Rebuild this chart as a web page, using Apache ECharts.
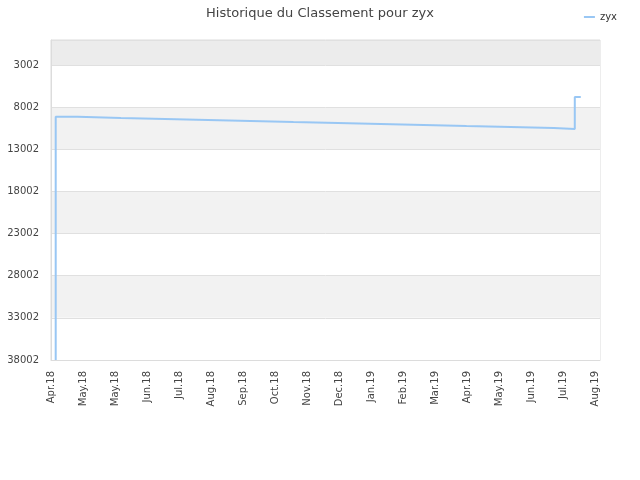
<!DOCTYPE html>
<html lang="fr" style="height: 100%">
<head>
  <meta charset="utf-8">
</head>
<body style="height: 100%; margin: 0">
  <div id="container" style="height: 100%"></div>

  <script type="text/javascript" src="https://fastly.jsdelivr.net/npm/echarts@6/dist/echarts.min.js"></script>

  <script type="text/javascript">
    // jours depuis le 1er avril 2018
    var dayOffsets = [4.4, 4.4, 25, 65.5, 106.7, 147, 187, 227, 268.6, 308.8, 349, 389, 430.5, 470.7, 490.4, 496];
    // classement
    var ranks = [38002, 9136, 9290, 9409, 9528, 9646, 9765, 9884, 10002, 10121, 10240, 10358, 10477, 10596, 6799, 6799];

    var xTickLabels = ['Apr.18', 'May.18', 'May.18', 'Jun.18', 'Jul.18', 'Aug.18', 'Sep.18', 'Oct.18',
      'Nov.18', 'Dec.18', 'Jan.19', 'Feb.19', 'Mar.19', 'Apr.19', 'May.19', 'Jun.19', 'Jul.19', 'Aug.19'];
    var yTickValues = [3002, 8002, 13002, 18002, 23002, 28002, 33002, 38002];

    var yMin = 36;

    var dom = document.getElementById('container');
    var myChart = echarts.init(dom, null, { renderer: 'canvas' });

    var seriesData = dayOffsets.map(function (d, i) {
      return [d, ranks[i]];
    });

    var option = {
      animation: false,
      textStyle: { fontFamily: 'DejaVu Sans' },
      title: {
        text: 'Historique du Classement pour zyx',
        left: 'center',
        top: 2,
        textStyle: { fontSize: 13, fontWeight: 'normal', color: '#444' }
      },
      legend: {
        right: 18,
        top: 7,
        itemWidth: 11,
        itemHeight: 2,
        itemGap: 6,
        data: [{ name: 'zyx', icon: 'rect' }],
        textStyle: { fontSize: 10, color: '#333' }
      },
      grid: {
        left: 51,
        right: 40,
        top: 40,
        bottom: 120,
        show: true,
        borderColor: '#dcdcdc',
        borderWidth: 1
      },
      xAxis: {
        type: 'value',
        min: 0,
        max: 514,
        interval: 30,
        axisLine: { show: true, lineStyle: { color: '#dcdcdc' } },
        axisTick: { show: false },
        splitLine: { show: false },
        axisLabel: {
          rotate: 90,
          margin: 11,
          fontSize: 10,
          color: '#444',
          showMaxLabel: false,
          formatter: function (v) {
            if (v % 30 !== 0) return '';
            return xTickLabels[v / 30] || '';
          }
        }
      },
      yAxis: {
        type: 'value',
        inverse: true,
        min: yMin,
        max: 38002,
        axisLine: { show: true, lineStyle: { color: '#dcdcdc' } },
        axisTick: { show: false, customValues: [yMin].concat(yTickValues) },
        axisLabel: {
          customValues: yTickValues,
          fontSize: 10,
          color: '#444',
          margin: 12,
          formatter: function (v) { return String(v); }
        },
        splitLine: { show: true, lineStyle: { color: '#e0e0e0' } },
        splitArea: {
          show: true,
          areaStyle: {
            color: ['#ececec', '#ffffff', '#f2f2f2', '#ffffff', '#f2f2f2', '#ffffff', '#f2f2f2', '#ffffff']
          }
        }
      },
      series: [
        {
          name: 'zyx',
          type: 'line',
          step: 'end',
          showSymbol: false,
          data: seriesData,
          itemStyle: { color: '#99c7f4' },
          lineStyle: { color: '#99c7f4', width: 2 }
        }
      ]
    };

    myChart.setOption(option);
    window.addEventListener('resize', myChart.resize);
  </script>
</body>
</html>
